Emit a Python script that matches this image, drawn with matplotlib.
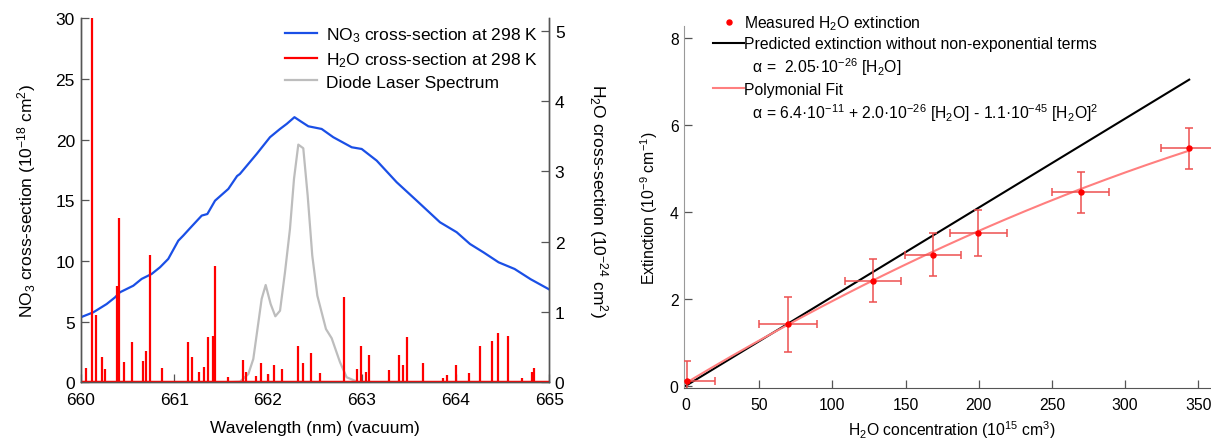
import numpy as np
import matplotlib
matplotlib.use("Agg")
import matplotlib.pyplot as plt
from matplotlib.lines import Line2D

plt.rcParams['font.family'] = ['Liberation Sans', 'DejaVu Sans']
plt.rcParams['mathtext.fontset'] = 'custom'
plt.rcParams['mathtext.rm'] = 'Liberation Sans'
plt.rcParams['mathtext.it'] = 'Liberation Sans:italic'
plt.rcParams['mathtext.bf'] = 'Liberation Sans:bold'

# ---------------- Left panel data ----------------
no3_wl = [660.0, 660.137, 660.279, 660.368, 660.421, 660.563, 660.652, 660.759, 660.848,
          660.936, 661.043, 661.096, 661.168, 661.293, 661.353, 661.435, 661.577, 661.67,
          661.70, 661.879, 662.021, 662.128, 662.20, 662.282, 662.35, 662.43, 662.572,
          662.696, 662.893, 662.999, 663.159, 663.372, 663.586, 663.834, 664.012, 664.154,
          664.30, 664.459, 664.63, 664.80, 665.0]
no3_xs = [5.35, 5.77, 6.45, 7.0, 7.42, 7.96, 8.52, 8.93, 9.48,
          10.17, 11.67, 12.09, 12.7, 13.74, 13.87, 14.97, 15.94, 17.0,
          17.17, 18.82, 20.2, 20.88, 21.3, 21.85, 21.5, 21.1, 20.88,
          20.2, 19.37, 19.23, 18.27, 16.49, 14.97, 13.19, 12.37, 11.4,
          10.7, 9.89, 9.34, 8.5, 7.65]

laser_wl = [661.55, 661.70, 661.79, 661.843, 661.932, 661.975, 662.028, 662.078, 662.128,
            662.181, 662.234, 662.277, 662.323, 662.376, 662.423, 662.472, 662.526,
            662.618, 662.679, 662.768, 662.839, 662.928]
laser_int = [0.0, 0.05, 0.68, 1.92, 6.87, 8.02, 6.45, 5.44, 5.9,
             9.07, 12.64, 16.76, 19.59, 19.29, 15.38, 10.44, 7.14,
             4.39, 3.63, 1.65, 0.41, 0.13]

h2o_wl = [660.055, 660.126, 660.162, 660.233, 660.26, 660.386, 660.407, 660.464, 660.546,
          660.663, 660.698, 660.741, 660.869, 661.143, 661.193, 661.267, 661.32, 661.363,
          661.416, 661.438, 661.57, 661.736, 661.766, 661.868, 661.922, 661.997, 662.064,
          662.146, 662.32, 662.37, 662.455, 662.554, 662.814, 662.946, 662.988, 663.045,
          663.077, 663.29, 663.397, 663.443, 663.486, 663.656, 663.87, 663.912, 664.0,
          664.143, 664.261, 664.386, 664.456, 664.556, 664.706, 664.812, 664.837]
h2o_xs = [0.20, 5.5, 0.96, 0.36, 0.19, 1.37, 2.34, 0.29, 0.58,
          0.31, 0.45, 1.81, 0.21, 0.58, 0.36, 0.15, 0.22, 0.64,
          0.66, 1.66, 0.08, 0.32, 0.15, 0.085, 0.27, 0.12, 0.25,
          0.19, 0.52, 0.28, 0.42, 0.13, 1.21, 0.19, 0.51, 0.15,
          0.39, 0.17, 0.39, 0.25, 0.64, 0.28, 0.06, 0.11, 0.25,
          0.13, 0.51, 0.59, 0.70, 0.66, 0.06, 0.14, 0.20]

wl_ticks = [660, 661, 662, 663, 664, 665]

# ---------------- Right panel data ----------------
conc = [0.5, 69.8, 127.6, 168.9, 199.6, 269.6, 343.8]
ext = [0.10, 1.41, 2.42, 3.02, 3.51, 4.45, 5.47]
conc_err = [19.0, 19.7, 19.0, 19.0, 19.4, 19.3, 19.4]
ext_err = [0.48, 0.63, 0.50, 0.49, 0.53, 0.47, 0.47]
alpha_lin = 0.0205                      # 2.05e-26 scaled to plot units
poly_coef = [0.064, 0.0202, -1.35e-5]   # polynomial fit (plot units)
conc_ticks = [0, 50, 100, 150, 200, 250, 300, 350]

LEFT_FS = 12.5
RIGHT_FS = 11.3
SPINE_C = '#555555'

fig = plt.figure(figsize=(12.11, 4.39), dpi=100)

# ================= Left panel =================
ax = fig.add_axes([80.5/1211, 1-383.3/439, 468.8/1211, 364/439])
ax2 = ax.twinx()

l_no3, = ax.plot(no3_wl, no3_xs, color='#1a4fe6', lw=1.6, zorder=3)
l_las, = ax.plot(laser_wl, laser_int, color='#bdbdbd', lw=1.6, zorder=2)
ax.set_xlim(660, 665)
ax.set_ylim(0, 30)
ax.set_xticks(wl_ticks)
ax.set_yticks(range(0, 31, 5))

ax2.vlines(h2o_wl, 0, h2o_xs, color='#ff0000', lw=1.6)
ax2.axhline(0, color='#ff0000', lw=2.5)
l_h2o = Line2D([], [], color='#ff0000', lw=1.6)
ax2.set_ylim(0, 5.18)
ax2.set_yticks(range(0, 6))

for a in (ax, ax2):
    a.spines['top'].set_visible(False)
    for s in a.spines.values():
        s.set_color(SPINE_C)
        s.set_linewidth(1.0)
    a.tick_params(direction='in', length=6, width=0.9, color=SPINE_C,
                  labelsize=LEFT_FS, pad=4)
ax.tick_params(axis='x', pad=7)

ax.set_xlabel('Wavelength (nm) (vacuum)', fontsize=LEFT_FS)
ax.set_ylabel(r'NO$_3$ cross-section (10$^{-18}$ cm$^2$)', fontsize=LEFT_FS)
ax2.set_ylabel(r'H$_2$O cross-section (10$^{-24}$ cm$^2$)', fontsize=LEFT_FS,
               rotation=270)
for lab in (ax.xaxis.label, ax.yaxis.label, ax2.yaxis.label):
    lab.set_va('center')
    lab.set_ha('center')
ax.xaxis.set_label_coords(0.5, (383.3-428.3)/364)
ax.yaxis.set_label_coords((27-80.5)/468.8, 0.5)
ax2.yaxis.set_label_coords((598-80.5)/468.8, 0.5)

ax2.legend([l_no3, l_h2o, l_las],
           [r'NO$_3$ cross-section at 298 K', r'H$_2$O cross-section at 298 K',
            'Diode Laser Spectrum'],
           loc='upper left', bbox_to_anchor=(285.4/1211, 1-26.5/439),
           bbox_transform=fig.transFigure, frameon=False, fontsize=LEFT_FS,
           borderpad=0, borderaxespad=0, handlelength=1.8, handletextpad=0.55,
           labelspacing=0.33)

# ================= Right panel =================
bx = fig.add_axes([684.3/1211, 1-389.3/439, (1211-684.3)/1211, 362.6/439])
xfit = np.linspace(0, conc[-1], 200)
l_lin, = bx.plot(xfit, alpha_lin*xfit, color='black', lw=1.5, zorder=2)
l_poly, = bx.plot(xfit, poly_coef[0] + poly_coef[1]*xfit + poly_coef[2]*xfit**2,
                  color='#ff7f7f', lw=1.5, zorder=2)
bx.errorbar(conc, ext, xerr=conc_err, yerr=ext_err, fmt='none',
            ecolor='#ee5050', elinewidth=1.1, capsize=3, capthick=1.1, zorder=3)
l_pts, = bx.plot(conc, ext, 'o', color='#ff0000', ms=3.6, zorder=4, clip_on=False)

bx.set_xlim(-1.16, 358.7)
bx.set_ylim(-0.06, 8.29)
bx.set_xticks(conc_ticks)
bx.set_yticks(range(0, 9, 2))
bx.spines['top'].set_visible(False)
bx.spines['right'].set_visible(False)
bx.spines['left'].set_color('#999999')
bx.spines['bottom'].set_color(SPINE_C)
bx.tick_params(direction='in', length=6, width=0.9, color=SPINE_C,
               labelsize=RIGHT_FS, pad=4)
bx.tick_params(axis='x', pad=6)
bx.set_xlabel(r'H$_2$O concentration (10$^{15}$ cm$^{3}$)', fontsize=RIGHT_FS)
bx.set_ylabel(r'Extinction (10$^{-9}$ cm$^{-1}$)', fontsize=RIGHT_FS)
for lab in (bx.xaxis.label, bx.yaxis.label):
    lab.set_va('center')
    lab.set_ha('center')
bx.xaxis.set_label_coords((952-684.3)/526.7, (389.3-430)/362.6)
bx.yaxis.set_label_coords((649-684.3)/526.7, 0.5)

blank = Line2D([], [], linestyle='none')
bx.legend([l_pts, l_lin, blank, l_poly, blank],
          [r'Measured H$_2$O extinction',
           'Predicted extinction without non-exponential terms',
           r'  α =  2.05·10$^{-26}$ [H$_2$O]',
           'Polymonial Fit',
           r'  α = 6.4·10$^{-11}$ + 2.0·10$^{-26}$ [H$_2$O] - 1.1·10$^{-45}$ [H$_2$O]$^2$'],
          loc='upper left', bbox_to_anchor=(713/1211, 1-14/439),
          bbox_transform=fig.transFigure, frameon=False, fontsize=RIGHT_FS,
          borderpad=0, borderaxespad=0, handlelength=2.0, handletextpad=0.0,
          labelspacing=0.28, numpoints=1)

fig.savefig('out.png', dpi=100)
